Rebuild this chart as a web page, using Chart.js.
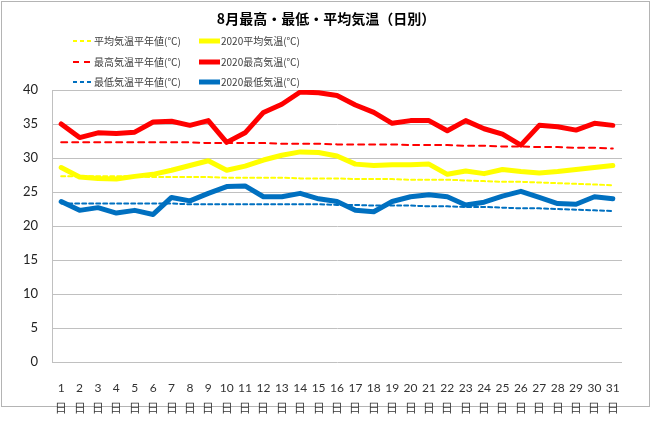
<!DOCTYPE html>
<html>
<head>
<meta charset="utf-8">
<script src="https://cdn.jsdelivr.net/npm/chart.js@4"></script>
<style>
  html, body { margin: 0; padding: 0; background: #fff; }
  #wrap { position: relative; width: 660px; height: 426px; }
  #frame { position: absolute; left: 1px; top: 1px; width: 649px; height: 406px; border: 1px solid #b4b4b4; box-sizing: border-box; }
  canvas { position: absolute; left: 0; top: 0; }
</style>
</head>
<body>
<div id="wrap">
  <div id="frame"></div>
  <canvas id="tempChart" width="660" height="426"></canvas>
</div>
<script>
const chartTitle = '8月最高・最低・平均気温（日別）';
const days = ['1','2','3','4','5','6','7','8','9','10','11','12','13','14','15','16',
  '17','18','19','20','21','22','23','24','25','26','27','28','29','30','31'];
const yTicks = [0, 5, 10, 15, 20, 25, 30, 35, 40];

// 平年値
const avgNormal = [27.3,27.3,27.3,27.3,27.3,27.2,27.2,27.2,27.2,27.1,27.1,27.1,27.1,27.0,27.0,27.0,
  26.9,26.9,26.9,26.8,26.8,26.8,26.7,26.6,26.5,26.5,26.4,26.3,26.2,26.1,26.0];
const maxNormal = [32.3,32.3,32.3,32.3,32.3,32.3,32.3,32.3,32.2,32.2,32.2,32.2,32.1,32.1,32.1,32.0,
  32.0,32.0,32.0,31.9,31.9,31.9,31.8,31.8,31.7,31.7,31.6,31.6,31.5,31.5,31.4];
const minNormal = [23.3,23.3,23.3,23.3,23.3,23.3,23.3,23.2,23.2,23.2,23.2,23.2,23.2,23.2,23.2,23.1,
  23.1,23.0,23.0,23.0,22.9,22.9,22.8,22.8,22.7,22.6,22.6,22.5,22.4,22.3,22.2];

// 2020
const avg2020 = [28.6,27.2,27.0,26.9,27.3,27.6,28.2,28.9,29.6,28.2,28.8,29.7,30.4,30.9,30.8,30.3,
  29.1,28.9,29.0,29.0,29.1,27.6,28.1,27.7,28.3,28.0,27.8,28.0,28.3,28.6,28.9];
const max2020 = [35.0,33.0,33.7,33.6,33.8,35.3,35.4,34.8,35.5,32.3,33.7,36.7,37.9,39.7,39.6,39.2,
  37.8,36.7,35.1,35.5,35.5,34.0,35.5,34.3,33.5,31.9,34.8,34.6,34.1,35.1,34.8];
const min2020 = [23.6,22.3,22.7,21.9,22.3,21.7,24.2,23.7,24.8,25.8,25.9,24.3,24.3,24.8,24.0,23.6,
  22.3,22.1,23.6,24.3,24.6,24.3,23.1,23.5,24.4,25.1,24.2,23.3,23.2,24.3,24.0];

const jpFont = '"Noto Sans CJK JP", "Noto Sans", sans-serif';
const numFont = 'Lato, "Noto Sans", sans-serif';

// title + legend in 3 rows x 2 columns
const legendPlugin = {
    id: 'legend2col',
    afterDraw(chart) {
        const ctx = chart.ctx;
        ctx.save();
        ctx.fillStyle = '#000';
        ctx.font = 'bold 14px ' + jpFont;
        ctx.textAlign = 'center';
        ctx.textBaseline = 'middle';
        ctx.fillText(chartTitle, 326, 19);

        const rows = [41, 62, 82];
        const cols = [[73, 93], [199, 220]];
        // legend order: normal / 2020 pairs per row
        const legendIdx = [[0, 1], [2, 3], [4, 5]];
        ctx.font = '10px ' + jpFont;
        ctx.textAlign = 'left';
        legendIdx.forEach((pair, r) => {
            pair.forEach((di, c) => {
                const ds = chart.data.datasets[di];
                const y = rows[r];
                ctx.beginPath();
                ctx.strokeStyle = ds.borderColor;
                ctx.lineWidth = ds.borderDash ? 2 : 5;
                ctx.setLineDash(ds.borderDash || []);
                ctx.moveTo(cols[c][0], y);
                ctx.lineTo(cols[c][1], y);
                ctx.stroke();
                ctx.setLineDash([]);
                ctx.fillStyle = '#404040';
                ctx.fillText(ds.label, cols[c][1] + 1, y);
            });
        });
        ctx.restore();
    }
};

const ctx = document.getElementById('tempChart').getContext('2d');
const myChart = new Chart(ctx, {
    type: 'line',
    data: {
        labels: days.map(d => [d, '日']),
        datasets: [
            { label: '平均気温平年値(℃)', data: avgNormal, borderColor: '#ffff00', borderWidth: 2, borderDash: [4, 3], order: 4 },
            { label: '2020平均気温(℃)', data: avg2020, borderColor: '#ffff00', borderWidth: 5, order: 1 },
            { label: '最高気温平年値(℃)', data: maxNormal, borderColor: '#ff0000', borderWidth: 2, borderDash: [6, 5], order: 5 },
            { label: '2020最高気温(℃)', data: max2020, borderColor: '#ff0000', borderWidth: 5, order: 2 },
            { label: '最低気温平年値(℃)', data: minNormal, borderColor: '#0070c0', borderWidth: 2, borderDash: [4, 3], order: 6 },
            { label: '2020最低気温(℃)', data: min2020, borderColor: '#0070c0', borderWidth: 5, order: 3 }
        ]
    },
    options: {
        responsive: false,
        animation: false,
        elements: {
            point: { radius: 0 },
            line: { tension: 0, borderJoinStyle: 'round', borderCapStyle: 'round', fill: false }
        },
        layout: { padding: { left: 0, right: 38, top: 90, bottom: 0 } },
        plugins: {
            legend: { display: false },
            title: { display: false },
            tooltip: { enabled: false }
        },
        scales: {
            x: {
                offset: true,
                grid: { display: false },
                border: { display: false },
                afterFit: s => { s.height = 64; },
                ticks: {
                    autoSkip: false,
                    maxRotation: 0,
                    padding: 9,
                    color: '#333',
                    font: { family: numFont, size: 12, lineHeight: 1.6 }
                }
            },
            y: {
                min: 0,
                max: 40,
                afterFit: s => { s.width = 52; },
                afterBuildTicks: s => { s.ticks = yTicks.map(v => ({ value: v })); },
                grid: { color: '#c0c0c0', lineWidth: 1, drawTicks: false },
                border: { display: true, color: '#c0c0c0' },
                ticks: {
                    padding: 14,
                    color: '#222',
                    font: { family: numFont, size: 13 }
                }
            }
        }
    },
    plugins: [legendPlugin]
});
</script>
</body>
</html>
